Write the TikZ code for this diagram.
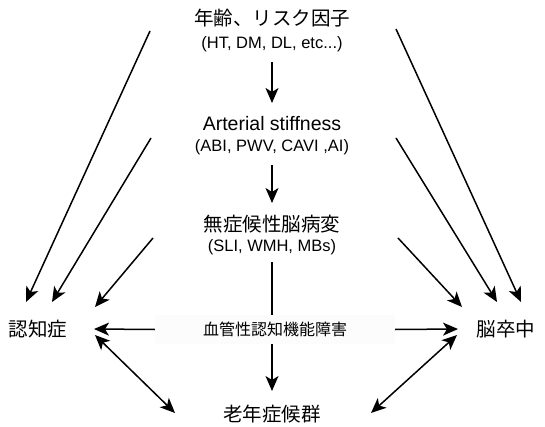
\documentclass[tikz,border=0pt]{standalone}
\usepackage{fontspec}
\setmainfont{Liberation Sans}
\newfontfamily\jp{Noto Sans CJK JP}
\usetikzlibrary{arrows.meta,calc}
\tikzset{
  main/.style={inner sep=0pt, font=\fontsize{19.5}{22}\selectfont\jp},
  mainlat/.style={inner sep=0pt, font=\fontsize{19.5}{22}\selectfont},
  sub/.style={inner sep=0pt, font=\fontsize{16.5}{19}\selectfont},
  vcibox/.style={inner sep=0pt, fill=black!1.2, minimum width=240pt, minimum height=29pt, font=\fontsize{16}{19}\selectfont\jp},
  arr/.style={line width=1.5pt, -{Stealth[length=15pt,width=13pt,inset=4pt]}},
  darr/.style={line width=1.5pt, {Stealth[length=15pt,width=13pt,inset=4pt]}-{Stealth[length=15pt,width=13pt,inset=4pt]}},
  plain/.style={line width=1.5pt}
}
\begin{document}
\begin{tikzpicture}[x=1pt,y=-1pt]
\useasboundingbox (0,0) rectangle (545,427);
\fill[white] (0,0) rectangle (545,427);
% nodes
\node[main] (age) at (272,18) {年齢、リスク因子};
\node[sub] (agesub) at (272,44) {(HT, DM, DL, etc...)};
\node[mainlat] (as) at (272,124) {Arterial stiffness};
\node[sub] (assub) at (272,147) {(ABI, PWV, CAVI ,AI)};
\node[main] (slb) at (272,224) {無症候性脳病変};
\node[sub] (slbsub) at (272,247) {(SLI, WMH, MBs)};
\node[vcibox] (vci) at (275,329.5) {血管性認知機能障害};
\node[main] (dem) at (38,329) {認知症};
\node[main] (stroke) at (506,329) {脳卒中};
\node[main] (ger) at (272,414) {老年症候群};
% free starts
\coordinate (l1) at (150,31);
\coordinate (l2) at (151,138);
\coordinate (l3) at (153,238);
\coordinate (r1) at (396,29);
\coordinate (r2) at (396,138);
\coordinate (r3) at (398,238);
% vertical chain
\draw[arr] ($(agesub)+(0,18)$) -- ($(as)+(0,-21)$);
\draw[arr] ($(assub)+(0,18)$) -- ($(slb)+(0,-21)$);
\draw[plain] ($(slbsub)+(0,15)$) -- (slbsub |- vci.north);
\draw[arr] (vci.south -| ger) -- ($(ger)+(0,-23)$);
% horizontal
\draw[arr] (vci.west) -- ($(dem)+(56,0)$);
\draw[arr] (vci.east) -- ($(stroke)+(-48,0)$);
% diagonals
\draw[arr] (l1) -- ($(dem)+(-12,-27)$);
\draw[arr] (l2) -- ($(dem)+(14,-27)$);
\draw[arr] (l3) -- ($(dem)+(57,-22)$);
\draw[arr] (r1) -- ($(stroke)+(15,-27)$);
\draw[arr] (r2) -- ($(stroke)+(-9,-27)$);
\draw[arr] (r3) -- ($(stroke)+(-44,-22)$);
% double arrows
\draw[darr] ($(dem)+(57,6)$) -- ($(ger)+(-97,-1)$);
\draw[darr] ($(stroke)+(-49,6)$) -- ($(ger)+(99,-1)$);
\end{tikzpicture}
\end{document}
